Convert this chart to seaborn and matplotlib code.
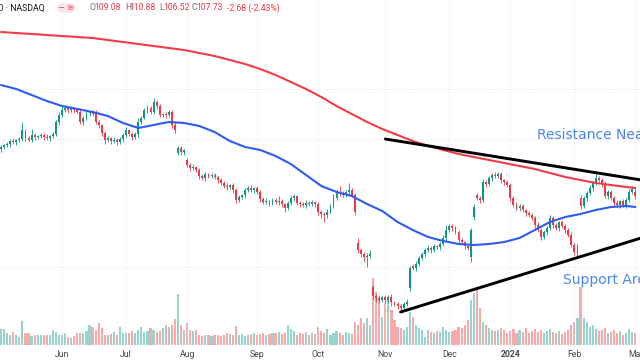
import numpy as np
import pandas as pd
import matplotlib
matplotlib.use("Agg")
import matplotlib.pyplot as plt
import seaborn as sns
from matplotlib.patches import FancyBboxPatch

# sessions shown: 2023-05-03 .. 2024-03-01 (US market holidays removed)
holidays = ["2023-05-29", "2023-06-19", "2023-07-04", "2023-09-04", "2023-11-23",
            "2023-12-25", "2024-01-01", "2024-01-15", "2024-02-19"]
dates = pd.bdate_range("2023-05-03", "2024-03-01")
dates = dates[~dates.isin(pd.to_datetime(holidays))]

opens = [
    126.4, 127.2, 128.0, 128.4, 129.6, 129.2, 130.0, 130.4, 133.6, 130.8,
    130.0, 132.0, 131.2, 131.6, 132.0, 131.2, 130.8, 131.6, 132.4, 137.2,
    140.0, 142.0, 142.8, 142.0, 142.8, 142.0, 141.2, 137.2, 138.8, 140.8,
    141.2, 141.2, 137.2, 136.0, 132.8, 130.0, 130.8, 129.6, 130.0, 129.2,
    130.4, 132.0, 134.0, 132.4, 131.2, 132.4, 137.2, 138.8, 142.0, 142.8,
    141.2, 145.2, 143.6, 140.0, 140.4, 140.0, 141.2, 136.0, 124.8, 126.8,
    125.2, 122.0, 120.0, 118.8, 119.2, 118.0, 115.6, 114.8, 116.4, 115.6,
    116.0, 115.2, 114.0, 112.8, 111.6, 111.2, 112.0, 110.0, 106.0, 107.2,
    108.0, 110.0, 110.8, 110.0, 110.8, 109.2, 106.4, 105.2, 105.6, 104.8,
    106.0, 105.2, 105.6, 104.4, 102.8, 104.8, 106.8, 107.6, 104.8, 104.4,
    104.0, 104.8, 104.4, 105.2, 104.4, 101.2, 100.4, 100.0, 101.2, 103.6,
    106.8, 109.2, 108.8, 108.0, 109.2, 110.0, 108.0, 88.8, 86.0, 84.4,
    83.2, 83.6, 71.2, 67.6, 66.8, 66.0, 67.2, 66.0, 67.2, 65.2,
    64.4, 63.6, 62.8, 64.4, 70.8, 79.6, 78.8, 80.4, 82.8, 84.4,
    86.0, 86.8, 86.0, 87.6, 87.2, 88.4, 90.8, 94.0, 95.6, 94.8,
    93.2, 90.0, 89.2, 87.6, 83.2, 99.2, 108.0, 106.8, 106.0, 113.2,
    112.4, 114.8, 116.0, 115.6, 116.4, 114.0, 113.2, 112.0, 106.8, 104.0,
    102.8, 103.6, 102.0, 100.8, 100.0, 98.8, 96.0, 94.0, 91.2, 93.2,
    94.8, 98.8, 96.0, 94.8, 97.2, 95.6, 94.0, 92.0, 88.0, 84.8,
    106.8, 103.6, 106.8, 108.8, 110.8, 112.8, 114.8, 114.0, 112.4, 107.6,
    109.2, 106.8, 104.8, 104.0, 105.6, 104.0, 106.0, 109.2, 109.08,
]
closes = [
    127.2, 128.0, 128.4, 129.6, 129.2, 130.0, 130.4, 134.0, 130.8, 130.0,
    132.0, 131.2, 131.6, 132.0, 131.2, 130.8, 131.6, 132.4, 137.2, 140.0,
    142.0, 142.8, 142.0, 142.8, 142.0, 141.2, 137.2, 138.8, 140.8, 141.2,
    140.4, 137.2, 136.0, 132.8, 130.0, 130.8, 129.6, 130.0, 129.2, 130.4,
    132.0, 134.0, 132.4, 131.2, 132.4, 137.2, 138.8, 142.0, 142.8, 141.2,
    145.2, 143.6, 140.0, 140.4, 140.0, 141.2, 136.0, 134.0, 126.8, 125.2,
    126.0, 120.0, 118.8, 119.2, 118.0, 115.6, 114.8, 116.4, 115.6, 116.0,
    115.2, 114.0, 112.8, 111.6, 111.2, 112.0, 110.0, 106.0, 107.2, 108.0,
    110.0, 110.8, 110.0, 110.8, 109.2, 106.4, 105.2, 105.6, 104.8, 106.0,
    105.2, 105.6, 104.4, 102.8, 104.8, 106.8, 107.6, 104.8, 104.4, 104.0,
    104.8, 104.4, 105.2, 104.4, 101.2, 100.4, 100.0, 101.2, 103.6, 106.8,
    109.2, 108.8, 108.0, 109.2, 110.0, 108.0, 101.2, 86.0, 84.4, 83.2,
    83.6, 84.4, 67.6, 66.8, 66.0, 67.2, 66.0, 67.2, 65.2, 64.4,
    63.6, 62.8, 64.4, 65.2, 78.8, 78.8, 80.4, 82.8, 84.4, 86.0,
    86.8, 86.0, 87.6, 87.2, 88.4, 90.8, 94.0, 95.6, 94.8, 93.2,
    90.0, 89.2, 87.6, 86.8, 94.0, 103.2, 106.8, 106.0, 113.2, 112.4,
    114.8, 116.0, 115.6, 116.4, 114.0, 113.2, 112.0, 106.8, 104.0, 102.8,
    103.6, 102.0, 100.8, 100.0, 98.8, 96.0, 94.0, 91.2, 93.2, 94.8,
    98.8, 96.0, 94.8, 97.2, 95.6, 94.0, 92.0, 88.0, 85.2, 87.6,
    103.6, 106.8, 108.8, 110.8, 112.8, 114.8, 114.0, 112.4, 107.6, 109.2,
    106.8, 104.8, 104.0, 105.6, 104.0, 106.0, 109.2, 110.41, 107.73,
]
upper_wick = [
    0.8, 0.6, 1.0, 0.8, 1.2, 0.6, 0.8, 3.2, 0.8, 1.0,
    2.4, 0.8, 0.6, 1.0, 0.8, 1.2, 0.6, 0.8, 1.0, 1.2,
    2.0, 1.2, 0.8, 1.0, 0.6, 0.8, 1.2, 0.8, 1.0, 0.6,
    0.8, 1.0, 0.8, 0.6, 1.0, 0.8, 0.6, 1.2, 0.8, 1.0,
    0.8, 1.2, 0.6, 0.8, 1.0, 1.6, 0.8, 1.0, 1.2, 0.8,
    1.6, 0.8, 1.0, 0.6, 0.8, 1.0, 0.8, 1.2, 1.0, 0.8,
    0.6, 1.0, 0.8, 1.2, 0.6, 0.8, 1.0, 0.8, 0.6, 1.0,
    0.8, 0.6, 1.0, 0.8, 1.2, 0.6, 0.8, 1.0, 0.8, 0.6,
    1.0, 0.8, 1.2, 0.6, 0.8, 1.0, 0.8, 1.2, 0.6, 0.8,
    1.0, 2.0, 0.8, 0.6, 1.0, 1.2, 0.8, 0.6, 1.0, 0.8,
    1.2, 0.8, 1.0, 0.6, 0.8, 1.0, 0.8, 1.2, 1.0, 1.6,
    1.2, 2.4, 0.8, 1.0, 2.8, 0.8, 1.0, 2.0, 0.8, 1.0,
    1.2, 1.6, 1.0, 0.8, 1.2, 0.6, 1.0, 0.8, 1.2, 0.6,
    0.8, 1.0, 0.8, 1.2, 0.8, 1.0, 1.2, 0.8, 1.0, 0.8,
    1.2, 0.8, 1.0, 0.6, 0.8, 1.2, 2.0, 1.0, 0.8, 1.0,
    0.8, 1.0, 0.6, 0.8, 1.0, 1.2, 0.8, 1.0, 1.2, 0.8,
    1.0, 0.8, 1.2, 0.8, 1.0, 0.6, 0.8, 1.0, 0.8, 1.2,
    0.8, 1.0, 0.6, 0.8, 1.0, 0.8, 1.2, 0.8, 1.0, 0.8,
    1.2, 0.8, 1.0, 0.6, 0.8, 1.0, 0.8, 1.2, 0.8, 1.0,
    1.2, 1.0, 0.8, 1.2, 0.8, 2.4, 1.0, 0.8, 1.2, 0.8,
    1.0, 0.8, 1.2, 0.6, 1.0, 0.8, 1.2, 1.0, 1.8,
]
lower_wick = [
    1.0, 0.8, 0.6, 1.0, 0.8, 1.2, 0.6, 0.8, 1.0, 0.8,
    0.6, 1.0, 0.8, 0.6, 1.2, 0.8, 1.0, 0.6, 0.8, 1.0,
    0.8, 0.6, 1.0, 0.8, 1.2, 0.6, 0.8, 1.0, 0.8, 1.2,
    0.6, 0.8, 1.0, 1.2, 1.6, 0.8, 1.0, 0.8, 1.2, 0.6,
    1.0, 0.8, 0.6, 1.0, 0.8, 1.2, 0.8, 0.6, 1.0, 0.8,
    0.8, 1.0, 0.8, 0.6, 1.0, 0.8, 1.2, 1.0, 0.8, 1.2,
    1.0, 0.8, 1.2, 0.6, 0.8, 1.0, 0.8, 1.2, 0.6, 0.8,
    0.8, 1.0, 0.6, 0.8, 1.2, 0.8, 1.0, 1.2, 0.8, 0.6,
    1.0, 0.8, 0.6, 1.0, 0.8, 1.2, 0.8, 0.6, 1.0, 0.8,
    0.8, 1.2, 1.0, 1.6, 0.8, 0.6, 1.0, 0.8, 1.2, 0.8,
    1.0, 0.8, 0.6, 1.0, 1.2, 1.6, 2.8, 1.0, 0.8, 0.6,
    0.8, 1.0, 0.6, 0.8, 1.0, 0.8, 1.2, 1.0, 1.2, 1.6,
    4.0, 0.8, 1.2, 1.6, 1.0, 0.8, 1.2, 1.0, 1.6, 0.8,
    1.2, 1.6, 1.0, 0.8, 1.2, 0.8, 1.0, 0.8, 0.6, 1.0,
    0.8, 1.0, 0.6, 0.8, 1.0, 0.8, 1.2, 0.8, 1.0, 0.8,
    1.0, 0.8, 1.2, 0.8, 2.0, 1.0, 0.8, 1.2, 0.8, 1.0,
    0.8, 1.0, 0.6, 0.8, 1.0, 1.2, 0.8, 1.0, 0.8, 0.6,
    1.0, 0.8, 1.2, 0.8, 0.6, 1.0, 0.8, 1.2, 0.8, 1.0,
    0.8, 1.0, 0.6, 1.2, 0.8, 1.0, 0.8, 0.6, 1.2, 2.0,
    1.0, 0.8, 1.2, 0.8, 1.0, 0.8, 0.6, 1.0, 0.8, 1.2,
    0.8, 1.0, 0.6, 1.2, 0.8, 1.0, 0.6, 0.8, 1.21,
]
# volume in millions of shares
volumes = [
    4.0, 4.0, 3.0, 2.5, 3.2, 2.5, 2.0, 6.0, 3.0, 3.0,
    2.2, 2.5, 2.5, 2.5, 2.4, 2.6, 2.5, 3.8, 3.2, 2.5,
    2.5, 3.0, 2.0, 1.8, 2.2, 3.0, 3.0, 3.0, 3.5, 5.0,
    4.5, 3.8, 5.5, 4.2, 2.5, 2.5, 2.8, 3.2, 2.5, 4.5,
    3.0, 3.0, 3.0, 3.5, 3.0, 3.8, 4.5, 3.2, 3.5, 4.2,
    3.8, 3.2, 3.5, 4.2, 5.0, 4.5, 5.0, 6.5, 12.8, 5.0,
    3.8, 5.5, 3.8, 3.5, 3.8, 2.4, 2.2, 2.5, 2.4, 2.2,
    2.5, 2.4, 2.2, 2.5, 3.0, 2.8, 2.5, 4.8, 2.5, 2.8,
    2.2, 2.5, 2.8, 3.0, 2.5, 2.8, 3.0, 2.5, 2.8, 3.0,
    3.0, 3.2, 2.8, 3.0, 5.0, 4.0, 3.5, 2.5, 3.0, 2.8,
    3.2, 2.5, 3.0, 2.8, 4.5, 3.5, 3.0, 4.0, 2.5, 3.0,
    3.5, 3.0, 2.5, 3.2, 3.0, 2.8, 5.8, 5.0, 6.8, 5.5,
    6.8, 5.0, 16.8, 13.2, 11.2, 7.0, 10.5, 12.0, 8.8, 6.2,
    4.5, 4.2, 3.8, 4.5, 8.2, 7.0, 5.0, 4.2, 3.8, 2.0,
    3.8, 3.2, 3.0, 3.5, 3.2, 4.5, 3.8, 3.2, 3.5, 3.8,
    4.5, 4.2, 5.0, 6.2, 11.2, 13.0, 14.5, 9.2, 5.8, 5.0,
    4.2, 3.8, 3.5, 3.8, 4.2, 3.8, 3.0, 3.5, 4.0, 3.0,
    3.8, 3.2, 4.2, 3.0, 3.5, 4.0, 3.2, 3.8, 3.0, 3.5,
    4.0, 3.2, 3.0, 3.5, 2.8, 3.2, 3.8, 5.0, 5.8, 6.8,
    14.5, 6.8, 5.8, 4.5, 5.0, 4.0, 3.5, 3.8, 4.2, 3.0,
    3.2, 3.8, 3.0, 3.5, 2.5, 3.0, 4.0, 3.2, 3.0,
]

# moving averages, read every 5 sessions (plus the last one)
ma_pos = list(range(0, 209, 5)) + [208]
ma_50 = [
    152.0, 150.4, 148.0, 145.6, 143.6, 142.4, 141.2, 139.6, 136.8, 134.8,
    136.0, 137.2, 136.8, 135.6, 133.2, 129.6, 127.2, 126.0, 123.6, 120.4,
    116.0, 111.6, 109.2, 107.6, 104.4, 101.6, 97.2, 94.0, 91.2, 89.6,
    88.4, 88.0, 88.4, 89.2, 90.8, 94.0, 97.2, 99.2, 100.4, 102.0,
    103.2, 103.6, 103.2,
]
ma_200 = [
    173.2, 172.8, 172.4, 172.0, 171.6, 171.2, 170.8, 170.0, 169.2, 168.4,
    167.6, 166.8, 166.0, 164.8, 163.6, 162.0, 160.4, 158.4, 156.0, 153.2,
    150.4, 147.2, 143.6, 140.4, 137.2, 134.4, 132.0, 129.6, 127.6, 126.0,
    124.4, 123.2, 122.0, 120.8, 119.6, 118.4, 116.8, 115.2, 114.0, 112.8,
    112.0, 111.2, 110.8,
]

# hand drawn trend lines (session index, price)
resistance_x = [126, 212]
resistance_y = [130.4, 113.6]
support_x = [131, 212]
support_y = [61.2, 91.6]

grid_prices = [150.4, 130.4, 79.2]

GREEN = "#089981"
RED = "#f23645"
VOL_UP = "#98d4ce"
VOL_DN = "#f8aaab"
BLUE_MA = "#2f5cf0"
RED_MA = "#f03c48"
TXT = "#131722"
GREY = "#6a6d78"

sns.set_theme(style="white")
plt.rcParams["font.family"] = ["DejaVu Sans"]

o = np.array(opens)
c = np.array(closes)
x = np.arange(len(dates))
up = c >= o
hi = np.maximum(o, c) + np.array(upper_wick)
lo = np.minimum(o, c) - np.array(lower_wick)
cols = np.where(up, GREEN, RED)

fig = plt.figure(figsize=(6.4, 3.6), dpi=100)
ax = fig.add_axes([0, 15 / 360, 1, 345 / 360])
axv = ax.twinx()

# volume pane at the bottom
vol_df = pd.DataFrame({"x": x, "vol": volumes, "dir": np.where(up, "up", "down")})
sns.barplot(data=vol_df, x="x", y="vol", hue="dir", palette={"up": VOL_UP, "down": VOL_DN},
            native_scale=True, dodge=False, width=0.7, saturation=1, linewidth=0,
            errorbar=None, legend=False, ax=axv)
axv.set_ylim(0, 86.25)
axv.axis("off")

ax.set_zorder(axv.get_zorder() + 1)
ax.patch.set_visible(False)

# candles
ax.vlines(x, lo, hi, colors=cols, linewidth=0.6, zorder=3)
body = np.maximum(np.abs(c - o), 0.35)
ax.bar(x, body, bottom=np.minimum(o, c), width=0.62, color=cols, linewidth=0, zorder=4)

ma_df = pd.DataFrame({"x": ma_pos, "ma50": ma_50, "ma200": ma_200})
sns.lineplot(data=ma_df, x="x", y="ma200", color=RED_MA, linewidth=1.5, ax=ax, zorder=5)
sns.lineplot(data=ma_df, x="x", y="ma50", color=BLUE_MA, linewidth=1.5, ax=ax, zorder=5)

ax.plot(resistance_x, resistance_y, color="black", linewidth=2.1, solid_capstyle="round", zorder=6)
ax.plot(support_x, support_y, color="black", linewidth=2.1, solid_capstyle="round", zorder=6)

ax.set_xlim(-0.35, 209.5)
ax.set_ylim(48, 186)

# month ticks at first session of each month
month_first = [i for i in range(len(dates)) if i > 0 and dates[i].month != dates[i - 1].month]
month_lbl = [dates[i].strftime("%b") if dates[i].month != 1 else str(dates[i].year) for i in month_first]
ax.set_xticks(month_first)
ax.set_xticklabels(month_lbl)
for t in ax.get_xticklabels():
    t.set_fontfamily("Roboto")
    t.set_fontsize(6.2)
    t.set_color("#434651")
    if t.get_text() == "2024":
        t.set_fontweight("bold")
ax.tick_params(axis="x", length=0, pad=3.5)
ax.set_yticks(grid_prices)
ax.tick_params(axis="y", length=0, labelleft=False)
ax.grid(True, linestyle=(0, (1, 2)), color="#d9dce3", linewidth=0.6)
ax.set_xlabel("")
ax.set_ylabel("")
for s in ax.spines.values():
    s.set_visible(False)

# annotations
fig.text(537 / 640, 1 - 135 / 360, "Resistance Near", color="#4a86e8", fontsize=10, va="center", ha="left")
fig.text(563 / 640, 1 - 280 / 360, "Support Area", color="#4a86e8", fontsize=10, va="center", ha="left")

# header line
fig.text(45 / 640, 1 - 8 / 360, "1D · NASDAQ", ha="right", va="center", fontsize=6.3, color=TXT, family="Roboto")
fig.patches.append(FancyBboxPatch((57 / 640, 1 - 13 / 360), 18 / 640, 10 / 360,
                                  boxstyle="round,pad=0,rounding_size=0.012",
                                  transform=fig.transFigure, facecolor="#fde4e7", edgecolor="none"))
fig.text(61 / 640, 1 - 8 / 360, "−", ha="center", va="center", fontsize=6, color=GREY)
fig.text(70 / 640, 1 - 8 / 360, "≋", ha="center", va="center", fontsize=6, color=RED)
header = [("O", f"{opens[-1]:.2f}", 90), ("H", f"{hi[-1]:.2f}", 125),
          ("L", f"{lo[-1]:.2f}", 159), ("C", f"{closes[-1]:.2f}", 192)]
for letter, val, px in header:
    fig.text(px / 640, 1 - 8 / 360, letter, ha="left", va="center", fontsize=6.2, color=GREY, family="Roboto")
    fig.text((px + 4.8) / 640, 1 - 8 / 360, val, ha="left", va="center", fontsize=6.2, color=RED, family="Roboto")
chg = closes[-1] - closes[-2]
fig.text(227 / 640, 1 - 8 / 360, f"{chg:.2f} ({chg / closes[-2] * 100:.2f}%)", ha="left", va="center",
         fontsize=6.2, color=RED, family="Roboto")

fig.savefig("out.png", dpi=100)
